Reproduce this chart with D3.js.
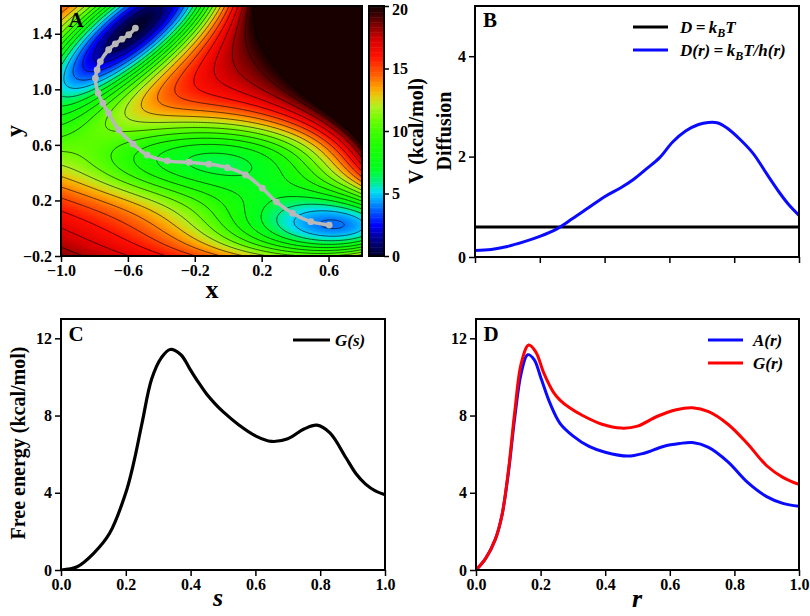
<!DOCTYPE html>
<html><head><meta charset="utf-8">
<script src="https://cdn.jsdelivr.net/npm/d3@7"></script>
<style>
body{margin:0;background:#fff}
svg{font-family:"Liberation Serif","Times New Roman",serif;font-weight:bold}
</style>
</head><body>
<svg id="chart" width="810" height="616"></svg>
<script>
// ---------------- data ----------------
// Panel A: Mueller-Brown potential parameters (V in kcal/mol = 0.1*(MB - min))
const mbA  = [-200, -100, -170, 15];
const mba  = [-1, -1, -6.5, 0.7];
const mbb  = [0, 0, 11, 0.6];
const mbc  = [-10, -10, -6.5, 0.7];
const mbx0 = [1, 0, -0.5, -1];
const mby0 = [0, 0.5, 1.5, 1];
const mbMin = -146.6995;
const mbScale = 0.1;
const contourLevels = [1,2,3,4,5,6,7,8,9,10,11,12,13,14,15,16,17,18,19,20];
// minimum energy path beads
const pathX = [-0.555,-0.595,-0.635,-0.675,-0.715,-0.765,-0.784,-0.794,-0.778,-0.75,-0.715,-0.655,-0.569,-0.485,-0.365,-0.235,-0.116,-0.005,0.104,0.204,0.288,0.384,0.494,0.604];
const pathY = [1.441,1.393,1.362,1.328,1.285,1.2,1.14,1.08,0.973,0.9,0.828,0.708,0.607,0.528,0.485,0.475,0.461,0.436,0.384,0.288,0.19,0.108,0.047,0.023];
// colormap
const cmapStops  = [0, 1.5, 2.5, 3.5, 4.5, 5.2, 6, 7, 9, 10, 11, 12, 12.7, 13.5, 14.5, 16, 17.3, 18.5, 19.5, 20];
const cmapColors = ["#000028","#00009a","#0000ff","#0050ff","#00a8ff","#00e0f0","#00f080","#00ff20","#20ff00","#40ff00","#70fc00","#b0f020","#e0d010","#ffa000","#ff6000","#ff1000","#d80000","#800000","#300000","#180000"];
const cbarTicks = [0,5,10,15,20];
const aXTicks = [-1.0,-0.6,-0.2,0.2,0.6];
const aYTicks = [-0.2,0.2,0.6,1.0,1.4];
// Panel B
const diffR = [0,0.05,0.1,0.15,0.2,0.25,0.3,0.35,0.4,0.45,0.49,0.53,0.57,0.61,0.65,0.69,0.72,0.75,0.78,0.82,0.86,0.9,0.94,0.97,1.0];
const diffD = [0.13,0.15,0.21,0.3,0.41,0.55,0.76,0.98,1.2,1.38,1.55,1.76,1.98,2.29,2.51,2.64,2.68,2.67,2.56,2.33,2.05,1.66,1.28,1.03,0.83];
const diffConst = 0.6;
const bXTicks = [0,0.2,0.4,0.6,0.8,1.0];
const bYTicks = [0,2,4];
// Panel C
const sVals = [0,0.05,0.1,0.15,0.2,0.225,0.25,0.28,0.31,0.337,0.37,0.4,0.425,0.45,0.475,0.5,0.55,0.6,0.65,0.7,0.75,0.79,0.83,0.88,0.91,0.94,0.97,1.0];
const gS    = [0,0.17,0.85,1.9,4.0,5.6,7.6,9.9,11.0,11.42,11.15,10.35,9.7,9.1,8.62,8.2,7.5,6.95,6.66,6.8,7.3,7.5,7.1,5.8,5.0,4.45,4.1,3.9];
// Panel D
const rA = [0,0.03,0.06,0.08,0.1,0.12,0.14,0.16,0.18,0.2,0.23,0.26,0.3,0.35,0.4,0.47,0.52,0.58,0.63,0.67,0.72,0.78,0.84,0.9,0.95,1.0];
const aR = [0,0.6,1.6,2.8,5.0,7.9,10.2,11.15,10.9,10.0,8.6,7.6,6.95,6.4,6.1,5.9,6.05,6.4,6.55,6.6,6.35,5.6,4.55,3.8,3.45,3.3];
const rG = [0,0.03,0.06,0.08,0.1,0.12,0.14,0.163,0.185,0.21,0.24,0.26,0.29,0.33,0.39,0.45,0.5,0.56,0.62,0.67,0.72,0.78,0.84,0.9,0.95,1.0];
const gR = [0,0.6,1.6,2.8,5.1,8.2,10.7,11.65,11.3,10.2,9.2,8.8,8.4,8.0,7.55,7.35,7.45,7.95,8.3,8.4,8.2,7.55,6.55,5.4,4.8,4.43];
const energyTicks = [0,4,8,12];
const unitTicks = [0,0.2,0.4,0.6,0.8,1.0];

// ---------------- drawing ----------------
const svg = d3.select("#chart");
const TICK_FS = 16;

function styleAxis(g){
  g.select(".domain").remove();
  g.selectAll(".tick line").attr("stroke","#000").attr("stroke-width",1.5);
  g.selectAll(".tick text").attr("fill","#000").style("font-size",TICK_FS+"px")
   .style("font-family","'Liberation Serif','Times New Roman',serif").style("font-weight","bold");
}
function frame(x0,y0,x1,y1){
  svg.append("rect").attr("x",x0).attr("y",y0).attr("width",x1-x0).attr("height",y1-y0)
    .attr("fill","none").attr("stroke","#000").attr("stroke-width",2);
}
function label(text,x,y,size,rot,italic){
  const t = svg.append("text").attr("x",x).attr("y",y).attr("text-anchor","middle")
    .style("font-size",size+"px").text(text);
  if(italic) t.style("font-style","italic");
  if(rot) t.attr("transform",`rotate(-90,${x},${y})`);
  return t;
}
const fmt1 = d3.format(".1f");
const smooth = d3.curveCatmullRom.alpha(0.5);

// ===== Panel A =====
const A = {x0:61,x1:362,y0:6,y1:256};
const xA = d3.scaleLinear().domain([-1,0.8]).range([A.x0,A.x1]);
const yA = d3.scaleLinear().domain([-0.2,1.6]).range([A.y1,A.y0]);
const color = d3.scaleLinear().domain(cmapStops).range(cmapColors).clamp(true);

function mb(x,y){
  let v=0;
  for(let k=0;k<4;k++){
    const dx=x-mbx0[k], dy=y-mby0[k];
    v += mbA[k]*Math.exp(mba[k]*dx*dx + mbb[k]*dx*dy + mbc[k]*dy*dy);
  }
  return (v-mbMin)*mbScale;
}
const nx=200, ny=200;
const gx0=-1, gx1=0.8, gy0=-0.2, gy1=1.6;
const grid = new Float64Array(nx*ny);
for(let j=0;j<ny;j++) for(let i=0;i<nx;i++){
  grid[i+j*nx] = mb(gx0+(i+0.5)*(gx1-gx0)/nx, gy0+(j+0.5)*(gy1-gy0)/ny);
}
const proj = d3.geoTransform({point(px,py){
  this.stream.point(xA(gx0+px*(gx1-gx0)/nx), yA(gy0+py*(gy1-gy0)/ny));
}});
const gp = d3.geoPath(proj);
svg.append("clipPath").attr("id","clipA").append("rect")
  .attr("x",A.x0).attr("y",A.y0).attr("width",A.x1-A.x0).attr("height",A.y1-A.y0);
const gA = svg.append("g").attr("clip-path","url(#clipA)");
gA.append("rect").attr("x",A.x0).attr("y",A.y0).attr("width",A.x1-A.x0).attr("height",A.y1-A.y0).attr("fill",color(0));
const fillLevels = d3.range(0,20.0001,0.1);
const fills = d3.contours().size([nx,ny]).thresholds(fillLevels)(grid);
gA.append("g").selectAll("path").data(fills).join("path")
  .attr("d",gp).attr("fill",d=>color(d.value)).attr("stroke",d=>color(d.value)).attr("stroke-width",0.3);
const lines = d3.contours().size([nx,ny]).thresholds(contourLevels)(grid);
gA.append("g").selectAll("path").data(lines).join("path")
  .attr("d",gp).attr("fill","none").attr("stroke","#000").attr("stroke-width",0.7).attr("stroke-opacity",0.9);
// path
const pathPts = pathX.map((x,i)=>[x,pathY[i]]);
gA.append("path").datum(pathPts)
  .attr("d",d3.line().x(d=>xA(d[0])).y(d=>yA(d[1])).curve(d3.curveCatmullRom))
  .attr("fill","none").attr("stroke","#b8b8b8").attr("stroke-width",3.5);
gA.append("g").selectAll("circle").data(pathPts).join("circle")
  .attr("cx",d=>xA(d[0])).attr("cy",d=>yA(d[1])).attr("r",3.4).attr("fill","#b8b8b8");

svg.append("g").attr("transform",`translate(0,${A.y1})`)
  .call(d3.axisBottom(xA).tickValues(aXTicks).tickFormat(fmt1).tickSize(6).tickPadding(3)).call(styleAxis);
svg.append("g").attr("transform",`translate(${A.x0},0)`)
  .call(d3.axisLeft(yA).tickValues(aYTicks).tickFormat(fmt1).tickSize(6).tickPadding(3)).call(styleAxis);
frame(A.x0,A.y0,A.x1,A.y1);
label("A",A.x0+15,27,21);
label("x",212,298,26);
label("y",22,131,24,true);

// colorbar
const CB = {x0:369,x1:384,y0:6,y1:256};
const yCB = d3.scaleLinear().domain([0,20]).range([CB.y1,CB.y0]);
const cbVals = d3.range(0,20,0.1);
svg.append("g").selectAll("rect").data(cbVals).join("rect")
  .attr("x",CB.x0).attr("width",CB.x1-CB.x0)
  .attr("y",d=>yCB(d+0.1)).attr("height",d=>yCB(d)-yCB(d+0.1)+0.5)
  .attr("fill",d=>color(d+0.05));
const cbAxis = svg.append("g").attr("transform",`translate(${CB.x1},0)`)
  .call(d3.axisRight(yCB).tickValues(cbarTicks).tickFormat(d3.format("d")).tickSize(5).tickPadding(3)).call(styleAxis);
cbAxis.selectAll(".tick text").filter(d=>d===20).attr("dy","0.55em");
frame(CB.x0,CB.y0,CB.x1,CB.y1);
label("V (kcal/mol)",423,131,20,true);

// ===== Panel B =====
const B = {x0:475,x1:799,y0:6,y1:257};
const xB = d3.scaleLinear().domain([0,1]).range([B.x0,B.x1]);
const yB = d3.scaleLinear().domain([0,5]).range([B.y1,B.y0]);
svg.append("clipPath").attr("id","clipB").append("rect")
  .attr("x",B.x0).attr("y",B.y0).attr("width",B.x1-B.x0).attr("height",B.y1-B.y0);
const gB = svg.append("g").attr("clip-path","url(#clipB)");
gB.append("line").attr("x1",xB(0)).attr("x2",xB(1)).attr("y1",yB(diffConst)).attr("y2",yB(diffConst))
  .attr("stroke","#000").attr("stroke-width",3);
gB.append("path").datum(diffR.map((r,i)=>[r,diffD[i]]))
  .attr("d",d3.line().x(d=>xB(d[0])).y(d=>yB(d[1])).curve(smooth))
  .attr("fill","none").attr("stroke","#0a0aff").attr("stroke-width",3);
svg.append("g").attr("transform",`translate(0,${B.y1})`)
  .call(d3.axisBottom(xB).tickValues(bXTicks).tickFormat("").tickSize(6)).call(styleAxis);
svg.append("g").attr("transform",`translate(${B.x0},0)`)
  .call(d3.axisLeft(yB).tickValues(bYTicks).tickFormat(d3.format("d")).tickSize(6).tickPadding(3)).call(styleAxis);
frame(B.x0,B.y0,B.x1,B.y1);
label("B",B.x0+15,27,21);
label("Diffusion",451,131,20,true);
// legend
function legendItem(x1,x2,y,col,build){
  svg.append("line").attr("x1",x1).attr("x2",x2).attr("y1",y).attr("y2",y).attr("stroke",col).attr("stroke-width",3);
  const t = svg.append("text").attr("x",x2+12).attr("y",y+6).style("font-size","17px").style("font-style","italic");
  build(t);
}
legendItem(633,668,27,"#000",t=>{
  t.append("tspan").text("D\u2009=\u2009k");
  t.append("tspan").attr("dy",4).style("font-size","12px").text("B");
  t.append("tspan").attr("dy",-4).text("T");
});
legendItem(633,668,50,"#0a0aff",t=>{
  t.append("tspan").text("D(r)\u2009=\u2009k");
  t.append("tspan").attr("dy",4).style("font-size","12px").text("B");
  t.append("tspan").attr("dy",-4).text("T/h(r)");
});

// ===== Panel C =====
const C = {x0:61,x1:385,y0:319,y1:570};
const xC = d3.scaleLinear().domain([0,1]).range([C.x0,C.x1]);
const yC = d3.scaleLinear().domain([0,13]).range([C.y1,C.y0]);
svg.append("clipPath").attr("id","clipC").append("rect")
  .attr("x",C.x0).attr("y",C.y0).attr("width",C.x1-C.x0).attr("height",C.y1-C.y0);
svg.append("g").attr("clip-path","url(#clipC)").append("path").datum(sVals.map((s,i)=>[s,gS[i]]))
  .attr("d",d3.line().x(d=>xC(d[0])).y(d=>yC(d[1])).curve(smooth))
  .attr("fill","none").attr("stroke","#000").attr("stroke-width",3.2);
svg.append("g").attr("transform",`translate(0,${C.y1})`)
  .call(d3.axisBottom(xC).tickValues(unitTicks).tickFormat(fmt1).tickSize(6).tickPadding(3)).call(styleAxis);
svg.append("g").attr("transform",`translate(${C.x0},0)`)
  .call(d3.axisLeft(yC).tickValues(energyTicks).tickFormat(d3.format("d")).tickSize(6).tickPadding(3)).call(styleAxis);
frame(C.x0,C.y0,C.x1,C.y1);
label("C",C.x0+15,341,21);
label("Free energy (kcal/mol)",25,443,20,true);
label("s",218,606,26,false,true);
legendItem(293,330,340,"#000",t=>{ t.attr("x",335); t.text("G(s)"); });

// ===== Panel D =====
const D = {x0:476,x1:799,y0:319,y1:570};
const xD = d3.scaleLinear().domain([0,1]).range([D.x0,D.x1]);
const yD = d3.scaleLinear().domain([0,13]).range([D.y1,D.y0]);
svg.append("clipPath").attr("id","clipD").append("rect")
  .attr("x",D.x0).attr("y",D.y0).attr("width",D.x1-D.x0).attr("height",D.y1-D.y0);
const gD = svg.append("g").attr("clip-path","url(#clipD)");
const lineD = d3.line().x(d=>xD(d[0])).y(d=>yD(d[1])).curve(smooth);
gD.append("path").datum(rA.map((r,i)=>[r,aR[i]])).attr("d",lineD)
  .attr("fill","none").attr("stroke","#0a0aff").attr("stroke-width",3);
gD.append("path").datum(rG.map((r,i)=>[r,gR[i]])).attr("d",lineD)
  .attr("fill","none").attr("stroke","#ff0000").attr("stroke-width",3);
svg.append("g").attr("transform",`translate(0,${D.y1})`)
  .call(d3.axisBottom(xD).tickValues(unitTicks).tickFormat(fmt1).tickSize(6).tickPadding(3)).call(styleAxis);
svg.append("g").attr("transform",`translate(${D.x0},0)`)
  .call(d3.axisLeft(yD).tickValues(energyTicks).tickFormat(d3.format("d")).tickSize(6).tickPadding(3)).call(styleAxis);
frame(D.x0,D.y0,D.x1,D.y1);
label("D",D.x0+15,341,21);
label("r",637,607,26,false,true);
legendItem(708,743,340,"#0a0aff",t=>{ t.attr("x",753); t.text("A(r)"); });
legendItem(708,743,363,"#ff0000",t=>{ t.attr("x",753); t.text("G(r)"); });
</script>
</body></html>
